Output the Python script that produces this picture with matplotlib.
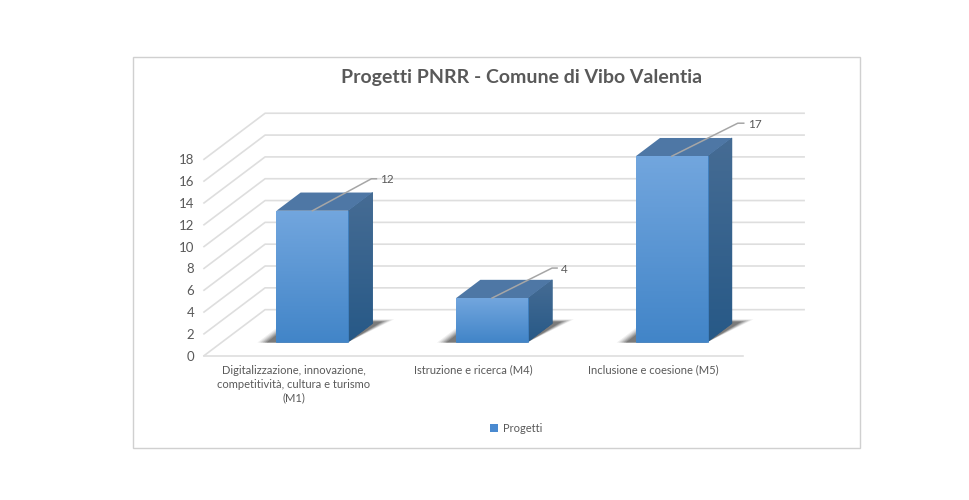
import numpy as np
import matplotlib
matplotlib.use('Agg')
import matplotlib.pyplot as plt
from matplotlib.colors import to_rgb
from matplotlib.patches import Polygon, Patch, Rectangle

categories = ['Digitalizzazione, innovazione,\ncompetitività, cultura e turismo\n(M1)',
              'Istruzione e ricerca (M4)',
              'Inclusione e coesione (M5)']
values = [12, 4, 17]
y_ticks = [0, 2, 4, 6, 8, 10, 12, 14, 16, 18]
series_name = 'Progetti'
title = 'Progetti PNRR - Comune di Vibo Valentia'

# oblique projection, wall offset in data units
DX = 0.34
DY = 4.22
TEXT = '#595959'
W, H = 969, 500
# leader line end of each label, pixels from the bar top: run, rise, tail
LEADERS = [(59, 32, 5), (60, 30, 5), (66, 33, 6)]

plt.rcParams['font.family'] = ['Lato', 'DejaVu Sans']


def proj(x, v, d):
    return x + d * DX, v + d * DY


def gradient_face(ax, pts, top, bottom, z):
    # vertical gradient clipped to a polygon
    pts = np.array(pts)
    c0 = np.array(to_rgb(top))
    c1 = np.array(to_rgb(bottom))
    t = np.linspace(0, 1, 128)[:, None, None]
    img = c0[None, None, :] * (1 - t) + c1[None, None, :] * t
    ax.add_patch(Polygon(pts, facecolor=bottom, edgecolor=bottom, lw=0.5, zorder=z - 0.1, clip_on=False))
    im = ax.imshow(img, extent=(pts[:, 0].min(), pts[:, 0].max(), pts[:, 1].min(), pts[:, 1].max()),
                   origin='upper', aspect='auto', zorder=z)
    poly = Polygon(pts, transform=ax.transData, facecolor='none', edgecolor='none')
    ax.add_patch(poly)
    im.set_clip_box(ax.figure.bbox)
    im.set_clip_path(poly)


def draw_bar(ax, cx, val, leader):
    hw, d0, d1 = 0.2, 0.304, 0.70
    x0, x1 = cx - hw, cx + hw
    # shadow on the floor, layered to look soft
    for grow, alpha in zip([0.03, 0.02, 0.01, 0.0, -0.01, -0.02], [0.07, 0.09, 0.12, 0.15, 0.18, 0.22]):
        ax.add_patch(Polygon([proj(x0 - 0.07 - grow, 0, d0 - 0.02),
                              proj(x1, 0, d0 - 0.02),
                              proj(x1 + 0.06 + grow, 0, d1 + 0.06 + grow),
                              proj(x0 - 0.07 - grow, 0, d1 + 0.06 + grow)],
                             facecolor='#222222', edgecolor='none', alpha=alpha, zorder=3, clip_on=False))
    front = [proj(x0, 0, d0), proj(x1, 0, d0), proj(x1, val, d0), proj(x0, val, d0)]
    side = [proj(x1, 0, d0), proj(x1, 0, d1), proj(x1, val, d1), proj(x1, val, d0)]
    top = [proj(x0, val, d0), proj(x1, val, d0), proj(x1, val, d1), proj(x0, val, d1)]
    gradient_face(ax, side, '#466C94', '#275987', 4)
    ax.add_patch(Polygon(top, facecolor='#4E77A5', edgecolor='none', zorder=4, clip_on=False))
    gradient_face(ax, front, '#72A6DE', '#4285C8', 5)

    # leader line and value label
    run, rise, tail = leader
    lx, ly = proj(cx, val, d0)
    px, py = ax.transData.transform((lx, ly))
    inv = ax.transData.inverted().transform
    ex, ey = inv((px + run, py + rise))
    tx, ty = inv((px + run + tail, py + rise))
    ax.plot([lx, ex, tx], [ly, ey, ty], color='#A6A6A6', lw=1.1, zorder=6, clip_on=False)
    ax.annotate(str(val), xy=(lx, ly), xytext=(run + tail + 4, rise - 1), textcoords='offset pixels',
                annotation_clip=False, color=TEXT, fontsize=8.5, va='center', ha='left', zorder=7)


def main():
    fig = plt.figure(figsize=(W / 100, H / 100), dpi=100, facecolor='white')
    ax = fig.add_axes([204 / W, (H - 355.7) / H, 539 / W, 196.4 / H])
    fig.add_artist(Rectangle((133 / W, (H - 448) / H), 727 / W, 391 / H, transform=fig.transFigure,
                             facecolor='white', edgecolor='#D0D0D0', lw=1.0, zorder=-5))
    ax.patch.set_visible(False)
    for s in ax.spines.values():
        s.set_visible(False)

    n = len(categories)
    ax.set_xlim(0, n)
    ax.set_ylim(0, 18)

    # walls
    for v in y_ticks:
        bx, by = proj(0, v, 1)
        ex, ey = proj(n, v, 1)
        ax.plot([0, bx, ex], [v, by, ey], color='#DEDEDE', lw=1.2, zorder=1, clip_on=False)
    ax.plot([0, n], [0, 0], color='#DEDEDE', lw=1.2, zorder=2, clip_on=False)

    for i, val in enumerate(values):
        draw_bar(ax, i + 0.5, val, LEADERS[i])

    ax.set_xlim(0, n)
    ax.set_ylim(0, 18)
    ax.set_xticks(np.arange(n) + 0.5)
    ax.set_xticklabels(categories, color=TEXT, fontsize=8, linespacing=1.32)
    ax.set_yticks(y_ticks)
    ax.set_yticklabels([str(v) for v in y_ticks], color=TEXT, fontsize=9.5)
    ax.tick_params(axis='both', length=0)
    ax.tick_params(axis='x', pad=6.5)
    ax.tick_params(axis='y', pad=7)

    fig.text(522 / W, (H - 77) / H, title, ha='center', va='center', fontsize=14,
             fontweight='bold', color=TEXT)
    fig.legend(handles=[Patch(facecolor='#4A8AD0', label=series_name)], loc='center',
               bbox_to_anchor=(516 / W, (H - 428) / H), frameon=False, fontsize=8,
               handlelength=0.75, handleheight=0.75, handletextpad=0.4, labelcolor=TEXT)
    fig.savefig('out.png', dpi=100)


if __name__ == '__main__':
    main()
